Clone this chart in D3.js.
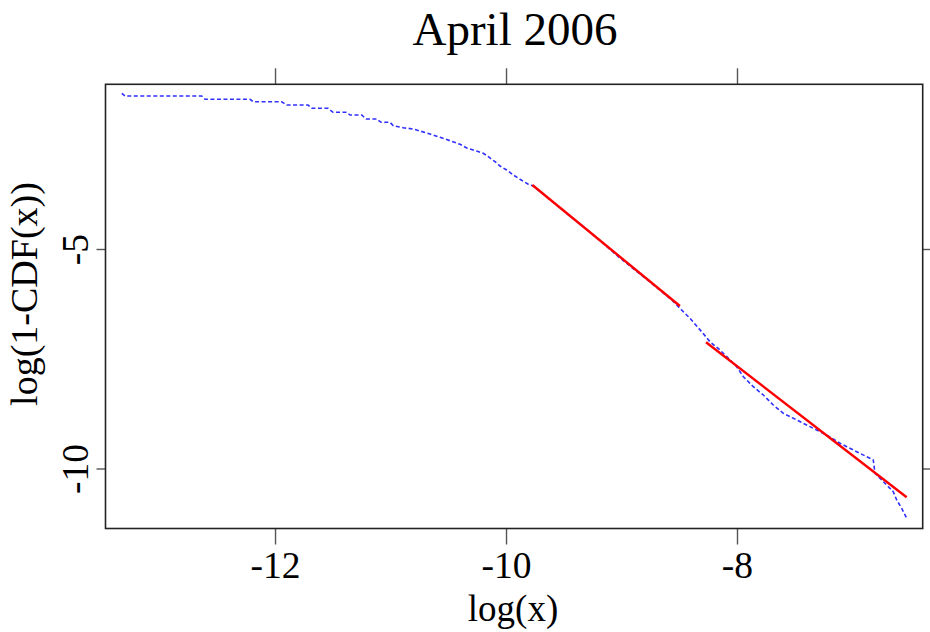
<!DOCTYPE html>
<html>
<head>
<meta charset="utf-8">
<script src="https://cdn.jsdelivr.net/npm/d3@7"></script>
<style>
  body { margin: 0; background: #fff; }
  svg text { font-family: "Liberation Serif", "Times New Roman", serif; fill: #000; }
</style>
</head>
<body>
<script>
"use strict";

const logX = [-13.327, -13.299, -12.635, -12.606, -12.216, -12.190, -11.942, -11.899, -11.714, -11.680,
    -11.541, -11.498, -11.379, -11.351, -11.249, -11.212, -11.119, -11.082, -11.004, -10.976,
    -10.889, -10.803, -10.745, -10.658, -10.571, -10.485, -10.398, -10.340, -10.254, -10.197,
    -10.153, -10.095, -10.052, -9.994, -9.937, -9.879, -9.807, -9.764, -9.532, -9.273,
    -9.013, -8.753, -8.565, -8.494, -8.407, -8.306, -8.234, -8.147, -8.089, -8.003,
    -7.945, -7.859, -7.772, -7.686, -7.599, -7.512, -7.397, -7.310, -7.223, -7.108,
    -7.050, -6.964, -6.877, -6.820, -6.805, -6.762, -6.690, -6.647, -6.617, -6.574, -6.531]
const logTail = [-1.453, -1.515, -1.515, -1.590, -1.590, -1.645, -1.645, -1.720, -1.720, -1.795,
    -1.795, -1.886, -1.886, -1.948, -1.948, -2.039, -2.039, -2.114, -2.114, -2.191,
    -2.237, -2.267, -2.312, -2.380, -2.456, -2.533, -2.615, -2.699, -2.768, -2.820,
    -2.897, -3.011, -3.109, -3.200, -3.314, -3.412, -3.526, -3.565, -4.066, -4.613,
    -5.205, -5.752, -6.162, -6.351, -6.579, -6.884, -7.112, -7.301, -7.453, -7.681,
    -7.909, -8.137, -8.326, -8.554, -8.743, -8.856, -9.009, -9.123, -9.237, -9.426,
    -9.503, -9.617, -9.731, -9.806, -10.109, -10.223, -10.415, -10.528, -10.718, -10.907, -11.134]

// two fitted straight lines (start and end points)
const fitX = [[-9.772, -8.494], [-8.268, -6.531]]
const fitY = [[-3.542, -6.298], [-7.125, -10.656]]

const xTicks = [-12, -10, -8]
const yTicks = [-5, -10]
const title = 'April 2006'
const xTitle = 'log(x)'
const yTitle = 'log(1-CDF(x))'

const serif = '"Liberation Serif", "Times New Roman", serif'

const m = {
    width: 930,
    height: 632,
    left: 105.5,
    right: 922.7,
    top: 84.3,
    bottom: 528.5
}

const svg = d3.select('body').append('svg')
    .attr('width', m.width)
    .attr('height', m.height)

const x = d3.scaleLinear()
    .domain([-13.468, -6.392])
    .range([m.left, m.right])

const y = d3.scaleLinear()
    .domain([-11.367, -1.248])
    .range([m.bottom, m.top])

// axes: ticks only, labels bottom + left
function styleAxis(g) {
    g.attr('font-family', serif)
    g.select('.domain').remove()
    g.selectAll('.tick line').attr('stroke', '#555').attr('stroke-width', 1.4)
    g.selectAll('.tick text')
        .style('font-family', serif)
        .style('font-size', '37.5px')
        .attr('fill', '#000')
}

svg.append('g')
    .attr('transform', `translate(0,${m.bottom})`)
    .call(d3.axisBottom(x).tickValues(xTicks).tickSize(16).tickFormat(d => d))
    .call(styleAxis)
    .call(g => g.selectAll('.tick text')
        .attr('y', 49.5).attr('dy', 0))

svg.append('g')
    .attr('transform', `translate(0,${m.top})`)
    .call(d3.axisTop(x).tickValues(xTicks).tickSize(16).tickFormat(''))
    .call(styleAxis)

svg.append('g')
    .attr('transform', `translate(${m.left},0)`)
    .call(d3.axisLeft(y).tickValues(yTicks).tickSize(9).tickFormat(d => d))
    .call(styleAxis)
    .call(g => g.selectAll('.tick text')
        .attr('x', 0).attr('dy', 0)
        .attr('text-anchor', 'middle')
        .attr('transform', 'translate(-17.5,0) rotate(-90)'))

svg.append('g')
    .attr('transform', `translate(${m.right},0)`)
    .call(d3.axisRight(y).tickValues(yTicks).tickSize(9).tickFormat(''))
    .call(styleAxis)

// plot box
svg.append('rect')
    .attr('x', m.left)
    .attr('y', m.top)
    .attr('width', m.right - m.left)
    .attr('height', m.bottom - m.top)
    .attr('fill', 'none')
    .attr('stroke', '#222')
    .attr('stroke-width', 1.6)

const line = d3.line()
    .x(i => x(logX[i]))
    .y(i => y(logTail[i]))

svg.append('path')
    .attr('d', line(d3.range(logX.length)))
    .attr('fill', 'none')
    .attr('stroke', '#3030ff')
    .attr('stroke-width', 1.6)
    .attr('stroke-dasharray', '4,2.5')

svg.selectAll('.fit')
    .data(d3.range(fitX.length))
    .enter()
    .append('line')
    .attr('class', 'fit')
    .attr('x1', i => x(fitX[i][0]))
    .attr('y1', i => y(fitY[i][0]))
    .attr('x2', i => x(fitX[i][1]))
    .attr('y2', i => y(fitY[i][1]))
    .attr('stroke', '#ff0000')
    .attr('stroke-width', 2.4)

// titles
svg.append('text')
    .attr('x', 515)
    .attr('y', 45)
    .attr('text-anchor', 'middle')
    .style('font-size', '47px')
    .text(title)

svg.append('text')
    .attr('x', 513)
    .attr('y', 621)
    .attr('text-anchor', 'middle')
    .style('font-size', '37px')
    .text(xTitle)

svg.append('text')
    .attr('transform', 'translate(37,294) rotate(-90)')
    .attr('text-anchor', 'middle')
    .style('font-size', '38px')
    .text(yTitle)
</script>
</body>
</html>
